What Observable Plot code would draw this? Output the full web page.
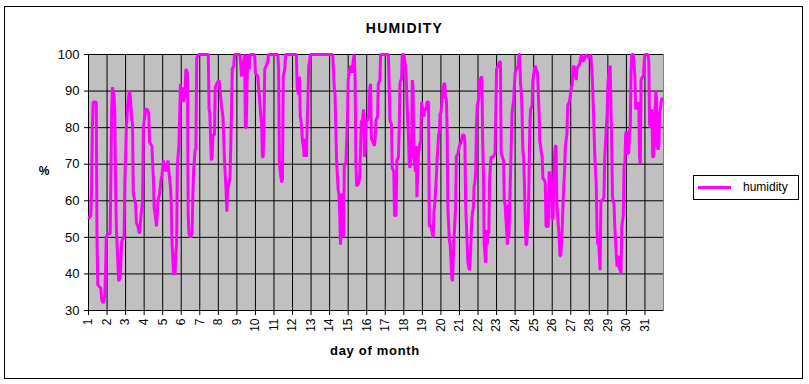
<!DOCTYPE html>
<html>
<head>
<meta charset="utf-8">
<script src="https://cdn.jsdelivr.net/npm/d3@7"></script>
<script src="https://cdn.jsdelivr.net/npm/@observablehq/plot@0.6"></script>
<style>
  html, body { margin: 0; padding: 0; background: #fff; }
  #chart { position: relative; width: 809px; height: 384px; font-family: "Liberation Sans", Arial, sans-serif; color: #000; }
  #chart svg { position: absolute; left: 0; top: 0; }
  .abs { position: absolute; }
</style>
</head>
<body>
<div id="chart"></div>
<script>
// Hours since the start of day 1 (hourly readings, sampled at turning points)
const hours = [
  0,3,4,5,6,10,11,12,16,17,19,21,22,23,25,28,29,30,31,33,34,35,36,37,39,41,43,46,47,49,51,53,54,56,57,58,61,62,64,66,68,70,71,74,76,78,79,82,84,85,87,88,90,92,94,95,97,100,103,104,106,107,108,110,112,113,114,115,117,119,121,122,123,125,126,128,129,130,132,134,135,136,138,139,140,142,155,156,157,158,159,160,161,163,164,166,169,170,172,174,176,178,179,180,183,184,185,186,188,189,196,198,200,202,203,204,206,208,209,215,216,219,222,223,224,225,226,227,228,230,232,233,245,246,247,248,250,251,252,254,255,269,270,272,273,274,275,277,278,279,280,282,283,285,286,287,316,318,319,321,323,324,325,326,327,328,330,331,333,335,336,338,340,341,343,344,345,346,347,350,351,353,354,356,357,358,359,361,363,364,365,366,368,370,371,372,374,375,377,378,388,389,390,392,393,395,396,398,399,401,402,403,404,405,406,408,410,411,413,414,415,416,418,419,420,421,423,424,425,426,427,429,430,431,433,434,435,437,438,440,441,443,444,446,447,448,450,451,453,454,455,456,457,458,460,461,462,463,464,465,467,468,469,470,471,472,473,475,476,478,480,482,484,486,487,488,490,491,493,494,496,497,498,499,500,501,502,503,504,505,506,509,510,511,512,514,515,516,517,518,519,521,524,526,527,528,530,532,533,534,537,538,539,541,542,543,544,545,547,548,549,550,552,554,556,557,558,559,560,561,562,563,564,566,567,568,569,570,571,572,574,575,577,578,579,581,583,584,585,586,587,588,589,591,592,593,595,596,598,599,600,601,602,603,604,605,606,607,609,610,611,612,613,614,615,616,617,619,620,622,623,624,625,626,627,628,630,631,632,634,635,637,638,640,642,644,648,650,652,653,654,655,657,658,659,660,662,663,665,667,668,670,671,672,674,675,677,678,680,681,682,683,684,685,686,688,689,690,692,693,694,695,696,697,699,700,701,702,703,705,707,708,710,711,712,713,714,715,717,718,719,720,724,725,726,727,729,730,731,732,733,734,735,736,737,738,739,740,741,742,743
];
const humidity = [
  55,56,63,80,87,87,50,37,36,33,32,34,40,50,51,51,67,85,91,89,84,66,53,48,38,39,49,50,65,80,87,90,89,82,81,62,59,54,53,51,56,60,80,85,85,84,76,75,66,58,55,53,60,62,66,67,71,68,71,68,64,60,49,40,40,46,48,70,75,92,87,91,87,90,96,95,56,51,50,51,61,68,74,74,99,100,100,85,84,77,71,72,78,78,91,92,93,91,86,83,71,63,57,63,66,74,84,96,97,100,100,94,97,100,80,80,100,96,100,100,95,94,86,83,81,72,72,80,96,97,98,100,100,96,71,68,65,66,94,96,100,100,91,89,94,83,82,76,75,72,77,72,81,97,98,100,100,91,89,71,63,62,57,48,52,62,50,70,70,82,93,96,97,95,99,100,93,70,64,65,67,82,81,85,72,74,82,82,84,91,92,77,76,75,77,82,83,92,93,100,100,92,82,81,69,68,56,56,71,72,79,92,93,93,100,100,97,94,82,78,70,69,75,93,91,72,68,75,61,68,73,76,76,87,84,83,85,85,87,87,53,53,52,50,57,59,66,71,78,79,84,84,86,89,92,92,88,88,80,58,49,48,44,39,38,44,50,58,72,73,75,76,78,78,76,59,48,43,41,44,55,57,58,64,65,68,81,86,87,88,93,94,77,68,48,43,52,48,52,51,66,72,72,73,84,96,97,98,98,73,71,60,59,52,48,59,50,59,75,84,86,87,95,96,97,100,100,92,90,84,74,72,65,48,48,53,54,66,80,85,86,93,96,97,96,95,84,76,75,73,72,66,66,65,53,53,53,68,67,64,55,55,64,72,75,75,59,56,50,45,45,48,53,59,64,68,75,78,86,87,88,90,91,92,96,97,95,93,96,97,97,99,100,98,99,100,99,100,93,87,80,73,64,52,48,49,41,60,60,61,72,80,83,92,96,97,75,61,59,53,49,45,42,45,42,41,40,53,56,70,70,78,79,73,73,79,80,95,100,100,94,85,87,86,87,72,70,93,94,94,98,100,100,98,81,80,85,72,72,75,84,90,88,75,74,75,84,85,87,88,88
];
const dayTicks = d3.range(1, 32);             // tick labels 1..31
const yTicks = [30, 40, 50, 60, 70, 80, 90, 100];

const rows = hours.map((h, i) => ({ day: 1 + h / 24, humidity: humidity[i] }));

const svg = Plot.plot({
  width: 809,
  height: 384,
  marginLeft: 88,
  marginRight: 146,
  marginTop: 54,
  marginBottom: 74,
  style: { fontFamily: '"Liberation Sans", Arial, sans-serif', fontSize: "12px", background: "transparent", color: "#000", overflow: "visible" },
  x: { domain: [1, 32], label: null },
  y: { domain: [30, 100], label: null },
  marks: [
    Plot.frame({ fill: "#C0C0C0", stroke: "#808080" }),
    Plot.gridX(dayTicks, { stroke: "#000", strokeOpacity: 1 }),
    Plot.gridY(yTicks, { stroke: "#000", strokeOpacity: 1 }),
    Plot.ruleX([1], { stroke: "#000" }),
    Plot.ruleY([30], { stroke: "#000" }),
    Plot.axisY(yTicks, { tickSize: 4, tickPadding: 5, label: null, fontSize: 13 }),
    Plot.axisX(dayTicks, { tickSize: 5, tickPadding: 3, tickRotate: -90, tickFormat: d => String(d), label: null, fontSize: 12 }),
    Plot.line(rows, { x: "day", y: "humidity", stroke: "#FF00FF", strokeWidth: 3, strokeLinejoin: "miter", strokeLinecap: "butt" })
  ]
});

const chart = document.getElementById("chart");
chart.appendChild(svg);

function add(html, css) {
  const el = document.createElement("div");
  el.className = "abs";
  el.innerHTML = html;
  Object.assign(el.style, css);
  chart.appendChild(el);
  return el;
}
// outer chart border
add("", { left: "4px", top: "6px", width: "799px", height: "373px", border: "1px solid #000", boxSizing: "border-box" });
// title
add("HUMIDITY", { left: "0px", width: "809px", top: "20px", textAlign: "center", fontWeight: "bold", fontSize: "14px", lineHeight: "16px", letterSpacing: "1.2px" });
// y-axis label
add("%", { left: "34px", width: "20px", top: "163px", textAlign: "center", fontWeight: "bold", fontSize: "12px", lineHeight: "16px" });
// x-axis label
add("day of month", { left: "275px", width: "200px", top: "343px", textAlign: "center", fontWeight: "bold", fontSize: "13px", lineHeight: "16px", letterSpacing: "0.7px" });
// legend
const legend = add("", { left: "693px", top: "175px", width: "106px", height: "25px", border: "1px solid #000", boxSizing: "border-box", background: "#fff" });
const sw = document.createElement("div");
Object.assign(sw.style, { position: "absolute", left: "4px", top: "10px", width: "33px", height: "3px", background: "#FF00FF" });
legend.appendChild(sw);
const lt = document.createElement("div");
lt.textContent = "humidity";
Object.assign(lt.style, { position: "absolute", left: "49px", top: "3px", fontSize: "12px", lineHeight: "16px" });
legend.appendChild(lt);
</script>
</body>
</html>
